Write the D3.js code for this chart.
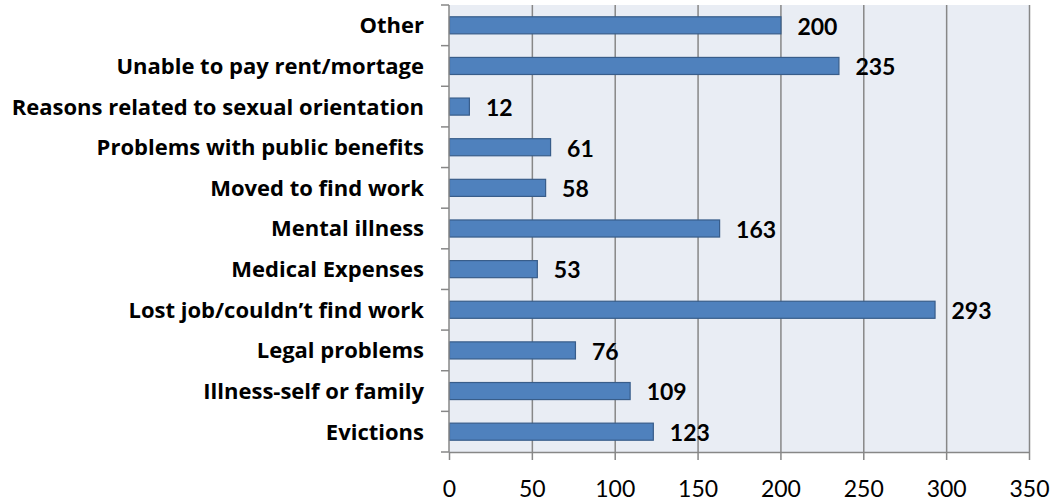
<!DOCTYPE html>
<html>
<head>
<meta charset="utf-8">
<script src="https://cdn.jsdelivr.net/npm/d3@7"></script>
<style>
  body { margin: 0; background: #fff; }
  svg { display: block; font-family: Lato, "Open Sans", sans-serif; }
  .cat { font-family: "Open Sans", sans-serif; font-weight: bold; font-size: 22px; fill: #000; }
  .val { font-weight: bold; font-size: 23px; fill: #000; }
  .xtick { font-size: 23px; fill: #000; }
</style>
</head>
<body>
<svg id="chart" width="1052" height="503"></svg>
<script>
// categories top to bottom, as in the picture
const categories = [
  'Other',
  'Unable to pay rent/mortage',
  'Reasons related to sexual orientation',
  'Problems with public benefits',
  'Moved to find work',
  'Mental illness',
  'Medical Expenses',
  'Lost job/couldn\u2019t find work',
  'Legal problems',
  'Illness-self or family',
  'Evictions'
]
const counts = [200, 235, 12, 61, 58, 163, 53, 293, 76, 109, 123]
const xTicks = [0, 50, 100, 150, 200, 250, 300, 350]

const data = categories.map((c, i) => ({ cat: c, value: counts[i] }))

const svg = d3.select('#chart')
const plotLeft = 449
const plotRight = 1029
const plotTop = 5
const plotBottom = 452

const x = d3.scaleLinear()
  .domain([0, 350])
  .range([plotLeft, plotRight])

const y = d3.scaleBand()
  .domain(categories)
  .range([plotTop, plotBottom])
  .paddingInner(0.58)
  .paddingOuter(0.29)

// plot background
svg.append('rect')
  .attr('x', plotLeft)
  .attr('y', plotTop)
  .attr('width', plotRight - plotLeft)
  .attr('height', plotBottom - plotTop)
  .attr('fill', '#e9edf4')

// vertical gridlines
svg.append('g')
  .selectAll('line')
  .data(xTicks.slice(1))
  .enter()
  .append('line')
  .attr('x1', (d) => x(d) + 0.5)
  .attr('x2', (d) => x(d) + 0.5)
  .attr('y1', plotTop)
  .attr('y2', plotBottom)
  .attr('stroke', '#878787')
  .attr('stroke-width', 1.5)

// bars
svg.append('g')
  .selectAll('rect')
  .data(data)
  .enter()
  .append('rect')
  .attr('x', x(0) + 0.5)
  .attr('y', (d) => y(d.cat))
  .attr('width', (d) => x(d.value) - x(0))
  .attr('height', y.bandwidth())
  .attr('fill', '#4f81bd')
  .attr('stroke', '#385d8a')
  .attr('stroke-width', 1.2)

// value labels
svg.append('g')
  .selectAll('text')
  .data(data)
  .enter()
  .append('text')
  .attr('class', 'val')
  .attr('x', (d) => x(d.value) + 17)
  .attr('y', (d) => y(d.cat) + y.bandwidth() / 2 + 1)
  .attr('dy', '0.36em')
  .text((d) => d.value)

// x axis
const xAxis = d3.axisBottom(x)
  .tickValues(xTicks)
  .tickSize(8)
  .tickPadding(21)
  .tickSizeOuter(0)

const gX = svg.append('g')
  .attr('transform', `translate(0,${plotBottom})`)
  .call(xAxis)
gX.attr('font-size', null).attr('font-family', null)
gX.select('.domain').attr('stroke', '#878787').attr('stroke-width', 1.5)
gX.selectAll('.tick line').attr('stroke', '#878787').attr('stroke-width', 1.5)
gX.selectAll('.tick text').attr('class', 'xtick')

// y axis: ticks at category boundaries
const step = y.step()
const boundaries = d3.range(categories.length + 1).map((i) => plotTop + i * step)
const gY = svg.append('g')
gY.append('line')
  .attr('x1', plotLeft).attr('x2', plotLeft)
  .attr('y1', plotTop).attr('y2', plotBottom)
  .attr('stroke', '#878787').attr('stroke-width', 1.5)
gY.selectAll('.yt')
  .data(boundaries)
  .enter()
  .append('line')
  .attr('class', 'yt')
  .attr('x1', plotLeft - 8).attr('x2', plotLeft)
  .attr('y1', (d) => d).attr('y2', (d) => d)
  .attr('stroke', '#878787').attr('stroke-width', 1.5)

gY.selectAll('.cat')
  .data(categories)
  .enter()
  .append('text')
  .attr('class', 'cat')
  .attr('x', 424)
  .attr('y', (d) => y(d) + y.bandwidth() / 2)
  .attr('dy', '0.36em')
  .attr('text-anchor', 'end')
  .text((d) => d)
</script>
</body>
</html>
